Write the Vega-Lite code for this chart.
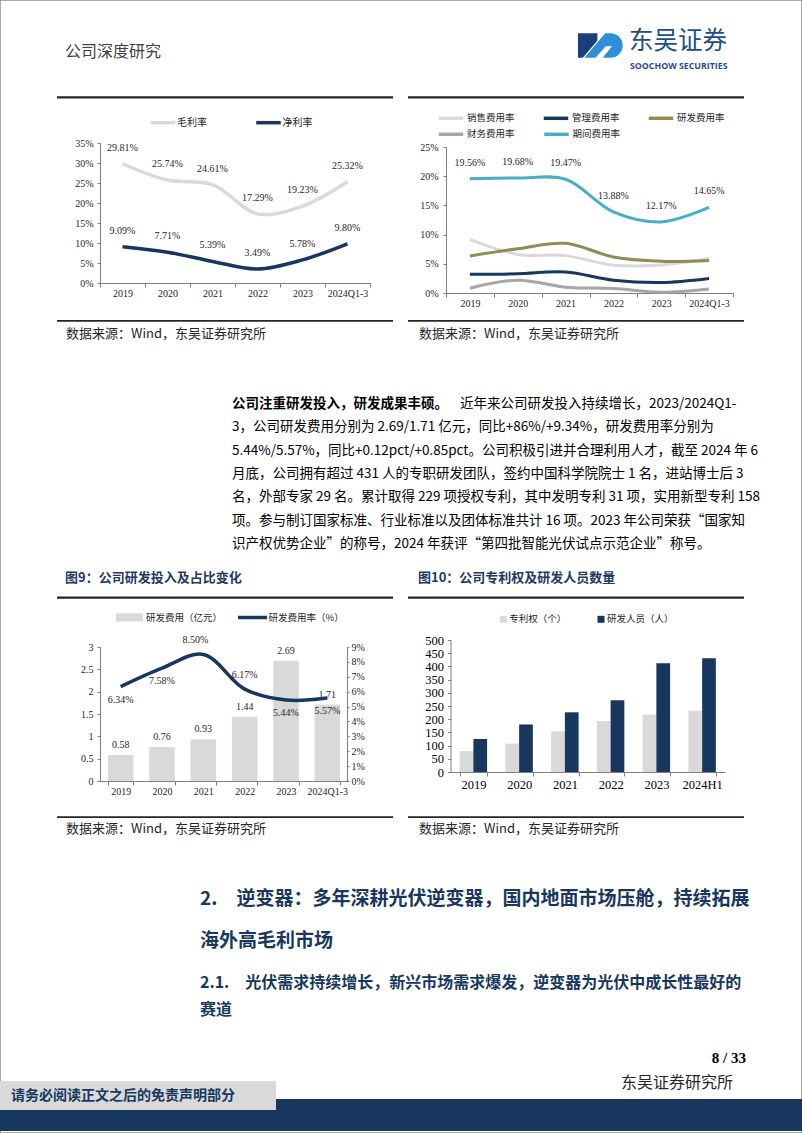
{
  "$schema": "https://vega.github.io/schema/vega-lite/v6.json",
  "width": 802,
  "height": 1133,
  "padding": 0,
  "autosize": {"type": "none"},
  "background": "#ffffff",
  "view": {"stroke": "#8c8c8c", "strokeWidth": 1.5},
  "config": {
    "axis": {"domainColor": "#7f7f7f", "tickColor": "#7f7f7f", "labelColor": "#262626", "labelFont": "Liberation Serif", "labelFontSize": 10, "grid": false},
    "text": {"font": "Noto Sans CJK SC", "baseline": "middle"}
  },
  "resolve": {
    "scale": {"x": "independent", "y": "independent", "color": "independent", "fill": "independent", "stroke": "independent", "shape": "independent", "size": "independent", "strokeWidth": "independent", "opacity": "independent"},
    "axis": {"x": "independent", "y": "independent"}
  },
  "layer": [
    {
      "data": {"values": [{"side": "L", "lv": "a"}, {"side": "R", "lv": "a"}]},
      "mark": {"type": "rect", "color": "#262626"},
      "encoding": {
        "x": {"field": "side", "type": "nominal", "scale": {"type": "band", "range": [57, 744], "paddingInner": 0.0427, "paddingOuter": 0}, "axis": null},
        "y": {"field": "lv", "type": "nominal", "scale": {"type": "band", "range": [96.3, 98.5], "paddingInner": 0, "paddingOuter": 0}, "axis": null}
      }
    },
    {
      "data": {"values": [{"side": "L", "lv": "a"}, {"side": "R", "lv": "a"}]},
      "mark": {"type": "rect", "color": "#262626"},
      "encoding": {
        "x": {"field": "side", "type": "nominal", "scale": {"type": "band", "range": [57, 744], "paddingInner": 0.0427, "paddingOuter": 0}, "axis": null},
        "y": {"field": "lv", "type": "nominal", "scale": {"type": "band", "range": [320, 321.7], "paddingInner": 0, "paddingOuter": 0}, "axis": null}
      }
    },
    {
      "data": {"values": [{"side": "L", "lv": "a"}, {"side": "R", "lv": "a"}]},
      "mark": {"type": "rect", "color": "#262626"},
      "encoding": {
        "x": {"field": "side", "type": "nominal", "scale": {"type": "band", "range": [57, 744], "paddingInner": 0.0427, "paddingOuter": 0}, "axis": null},
        "y": {"field": "lv", "type": "nominal", "scale": {"type": "band", "range": [596.6, 598.8], "paddingInner": 0, "paddingOuter": 0}, "axis": null}
      }
    },
    {
      "data": {"values": [{"side": "L", "lv": "a"}, {"side": "R", "lv": "a"}]},
      "mark": {"type": "rect", "color": "#262626"},
      "encoding": {
        "x": {"field": "side", "type": "nominal", "scale": {"type": "band", "range": [57, 744], "paddingInner": 0.0427, "paddingOuter": 0}, "axis": null},
        "y": {"field": "lv", "type": "nominal", "scale": {"type": "band", "range": [816.2, 817.9], "paddingInner": 0, "paddingOuter": 0}, "axis": null}
      }
    },
    {
      "data": {"values": [{"k": "band"}]},
      "mark": {"type": "rect", "color": "#17375e"},
      "encoding": {
        "x": {"field": "k", "type": "nominal", "scale": {"type": "band", "range": [0, 802], "paddingInner": 0, "paddingOuter": 0}, "axis": null},
        "y": {"field": "k", "type": "nominal", "scale": {"type": "band", "range": [1099, 1131], "paddingInner": 0, "paddingOuter": 0}, "axis": null}
      }
    },
    {
      "data": {"values": [{"k": "box"}]},
      "mark": {"type": "rect", "color": "#d9d9d9"},
      "encoding": {
        "x": {"field": "k", "type": "nominal", "scale": {"type": "band", "range": [0, 276], "paddingInner": 0, "paddingOuter": 0}, "axis": null},
        "y": {"field": "k", "type": "nominal", "scale": {"type": "band", "range": [1081, 1110], "paddingInner": 0, "paddingOuter": 0}, "axis": null}
      }
    },
    {
      "data": {"values": [{"part": "a"}, {"part": "b"}]},
      "mark": {"type": "point", "filled": true, "opacity": 1, "size": 2116, "stroke": "#ffffff", "strokeWidth": 1.2},
      "encoding": {
        "x": {"field": "part", "type": "nominal", "scale": {"type": "point", "range": [600.3, 600.3]}, "axis": null},
        "y": {"field": "part", "type": "nominal", "scale": {"type": "point", "range": [45.5, 45.5]}, "axis": null},
        "shape": {"field": "part", "type": "nominal", "scale": {"domain": ["a", "b"], "range": ["M-1,-0.56H-0.1V0.56H-1Z", "M-0.75,0.56L0.2,-0.56H0.44A0.56,0.56,0,0,1,0.44,0.56H0.05L0.45,0.06L0.25,0.06L-0.2,0.56Z"]}, "legend": null},
        "fill": {"field": "part", "type": "nominal", "scale": {"domain": ["a", "b"], "range": ["#1b3f7a", "#2f8fd6"]}, "legend": null}
      }
    },
    {
      "data": {"values": [{"t": "公司深度研究"}]},
      "mark": {"type": "text", "align": "left", "fontSize": 16, "color": "#404040"},
      "encoding": {
        "text": {"field": "t"},
        "x": {"field": "t", "type": "nominal", "scale": {"type": "point", "range": [65, 65]}, "axis": null},
        "y": {"field": "t", "type": "nominal", "scale": {"type": "point", "range": [52, 52]}, "axis": null}
      }
    },
    {
      "data": {"values": [{"t": "东吴证券"}]},
      "mark": {"type": "text", "align": "left", "fontSize": 24.5, "color": "#1d4e89"},
      "encoding": {
        "text": {"field": "t"},
        "x": {"field": "t", "type": "nominal", "scale": {"type": "point", "range": [629, 629]}, "axis": null},
        "y": {"field": "t", "type": "nominal", "scale": {"type": "point", "range": [42, 42]}, "axis": null}
      }
    },
    {
      "data": {"values": [{"t": "SOOCHOW SECURITIES"}]},
      "mark": {"type": "text", "align": "left", "font": "Open Sans", "fontWeight": "bold", "fontSize": 8.8, "color": "#1d4e89"},
      "encoding": {
        "text": {"field": "t"},
        "x": {"field": "t", "type": "nominal", "scale": {"type": "point", "range": [630, 630]}, "axis": null},
        "y": {"field": "t", "type": "nominal", "scale": {"type": "point", "range": [66, 66]}, "axis": null}
      }
    },
    {
      "data": {"values": [{"side": "L", "t": "数据来源：Wind，东吴证券研究所"}, {"side": "R", "t": "数据来源：Wind，东吴证券研究所"}]},
      "mark": {"type": "text", "align": "left", "fontSize": 13, "color": "#262626"},
      "encoding": {
        "text": {"field": "t"},
        "x": {"field": "side", "type": "nominal", "scale": {"type": "point", "range": [66, 419], "padding": 0}, "axis": null},
        "y": {"field": "t", "type": "nominal", "scale": {"type": "point", "range": [333.5, 333.5]}, "axis": null}
      }
    },
    {
      "data": {"values": [{"t": "公司注重研发投入，研发成果丰硕。"}]},
      "mark": {"type": "text", "align": "left", "fontSize": 13.5, "fontWeight": "bold", "color": "#000000"},
      "encoding": {
        "text": {"field": "t"},
        "x": {"field": "t", "type": "nominal", "scale": {"type": "point", "range": [232, 232]}, "axis": null},
        "y": {"field": "t", "type": "nominal", "scale": {"type": "point", "range": [404, 404]}, "axis": null}
      }
    },
    {
      "data": {"values": [{"t": "近年来公司研发投入持续增长，2023/2024Q1-"}]},
      "mark": {"type": "text", "align": "left", "fontSize": 13.5, "color": "#000000"},
      "encoding": {
        "text": {"field": "t"},
        "x": {"field": "t", "type": "nominal", "scale": {"type": "point", "range": [460, 460]}, "axis": null},
        "y": {"field": "t", "type": "nominal", "scale": {"type": "point", "range": [404, 404]}, "axis": null}
      }
    },
    {
      "data": {"values": [
        {"line": 2, "t": "3，公司研发费用分别为 2.69/1.71 亿元，同比+86%/+9.34%，研发费用率分别为"},
        {"line": 3, "t": "5.44%/5.57%，同比+0.12pct/+0.85pct。公司积极引进并合理利用人才，截至 2024 年 6"},
        {"line": 4, "t": "月底，公司拥有超过 431 人的专职研发团队，签约中国科学院院士 1 名，进站博士后 3"},
        {"line": 5, "t": "名，外部专家 29 名。累计取得 229 项授权专利，其中发明专利 31 项，实用新型专利 158"},
        {"line": 6, "t": "项。参与制订国家标准、行业标准以及团体标准共计 16 项。2023 年公司荣获“国家知"},
        {"line": 7, "t": "识产权优势企业”的称号，2024 年获评“第四批智能光伏试点示范企业”称号。"}
      ]},
      "mark": {"type": "text", "align": "left", "fontSize": 13.5, "color": "#000000"},
      "encoding": {
        "text": {"field": "t"},
        "x": {"field": "t", "type": "nominal", "scale": {"type": "point", "range": [232, 232]}, "axis": null},
        "y": {"field": "line", "type": "ordinal", "scale": {"type": "point", "range": [427.3, 544], "padding": 0}, "axis": null}
      }
    },
    {
      "data": {"values": [{"side": "L", "t": "图9：公司研发投入及占比变化"}, {"side": "R", "t": "图10：公司专利权及研发人员数量"}]},
      "mark": {"type": "text", "align": "left", "fontSize": 13, "fontWeight": "bold", "color": "#1f3864"},
      "encoding": {
        "text": {"field": "t"},
        "x": {"field": "side", "type": "nominal", "scale": {"type": "point", "range": [65, 418], "padding": 0}, "axis": null},
        "y": {"field": "side", "type": "nominal", "scale": {"type": "point", "range": [578, 578]}, "axis": null}
      }
    },
    {
      "data": {"values": [{"side": "L", "t": "数据来源：Wind，东吴证券研究所"}, {"side": "R", "t": "数据来源：Wind，东吴证券研究所"}]},
      "mark": {"type": "text", "align": "left", "fontSize": 13, "color": "#262626"},
      "encoding": {
        "text": {"field": "t"},
        "x": {"field": "side", "type": "nominal", "scale": {"type": "point", "range": [66, 419], "padding": 0}, "axis": null},
        "y": {"field": "t", "type": "nominal", "scale": {"type": "point", "range": [829, 829]}, "axis": null}
      }
    },
    {
      "data": {"values": [
        {"line": 1, "t": "2.　逆变器：多年深耕光伏逆变器，国内地面市场压舱，持续拓展"},
        {"line": 2, "t": "海外高毛利市场"}
      ]},
      "mark": {"type": "text", "align": "left", "fontSize": 19, "fontWeight": "bold", "color": "#17375e"},
      "encoding": {
        "text": {"field": "t"},
        "x": {"field": "t", "type": "nominal", "scale": {"type": "point", "range": [200, 200]}, "axis": null},
        "y": {"field": "line", "type": "ordinal", "scale": {"type": "point", "range": [899, 941], "padding": 0}, "axis": null}
      }
    },
    {
      "data": {"values": [
        {"line": 1, "t": "2.1.　光伏需求持续增长，新兴市场需求爆发，逆变器为光伏中成长性最好的"},
        {"line": 2, "t": "赛道"}
      ]},
      "mark": {"type": "text", "align": "left", "fontSize": 16, "fontWeight": "bold", "color": "#17375e"},
      "encoding": {
        "text": {"field": "t"},
        "x": {"field": "t", "type": "nominal", "scale": {"type": "point", "range": [200, 200]}, "axis": null},
        "y": {"field": "line", "type": "ordinal", "scale": {"type": "point", "range": [983, 1010], "padding": 0}, "axis": null}
      }
    },
    {
      "data": {"values": [{"t": "8 / 33"}]},
      "mark": {"type": "text", "align": "right", "font": "Liberation Serif", "fontWeight": "bold", "fontSize": 15, "color": "#000000"},
      "encoding": {
        "text": {"field": "t"},
        "x": {"field": "t", "type": "nominal", "scale": {"type": "point", "range": [746, 746]}, "axis": null},
        "y": {"field": "t", "type": "nominal", "scale": {"type": "point", "range": [1058, 1058]}, "axis": null}
      }
    },
    {
      "data": {"values": [{"t": "东吴证券研究所"}]},
      "mark": {"type": "text", "align": "left", "fontSize": 16, "color": "#262626"},
      "encoding": {
        "text": {"field": "t"},
        "x": {"field": "t", "type": "nominal", "scale": {"type": "point", "range": [621, 621]}, "axis": null},
        "y": {"field": "t", "type": "nominal", "scale": {"type": "point", "range": [1083, 1083]}, "axis": null}
      }
    },
    {
      "data": {"values": [{"t": "请务必阅读正文之后的免责声明部分"}]},
      "mark": {"type": "text", "align": "left", "fontSize": 14, "fontWeight": "bold", "color": "#17375e"},
      "encoding": {
        "text": {"field": "t"},
        "x": {"field": "t", "type": "nominal", "scale": {"type": "point", "range": [11, 11]}, "axis": null},
        "y": {"field": "t", "type": "nominal", "scale": {"type": "point", "range": [1095.5, 1095.5]}, "axis": null}
      }
    },
    {
      "data": {"values": [{"s": "毛利率"}, {"s": "净利率"}]},
      "encoding": {
        "x": {"field": "s", "type": "nominal", "scale": {"type": "point", "domain": ["毛利率", "净利率"], "range": [163, 268.5], "padding": 0}, "axis": null},
        "y": {"field": "s", "type": "nominal", "scale": {"type": "point", "range": [122.7, 122.7]}, "axis": null}
      },
      "layer": [
        {"mark": {"type": "point", "shape": "stroke", "size": 600, "strokeWidth": 3.5, "filled": false, "opacity": 1},
         "encoding": {"stroke": {"field": "s", "type": "nominal", "scale": {"domain": ["毛利率", "净利率"], "range": ["#d9d9d9", "#17375e"]}, "legend": null}}},
        {"mark": {"type": "text", "align": "left", "dx": 14, "fontSize": 10, "color": "#262626"},
         "encoding": {"text": {"field": "s"}}}
      ]
    },
    {
      "data": {"values": [
        {"year": "2019", "series": "毛利率", "value": 0.2981}, {"year": "2020", "series": "毛利率", "value": 0.2574},
        {"year": "2021", "series": "毛利率", "value": 0.2461}, {"year": "2022", "series": "毛利率", "value": 0.1729},
        {"year": "2023", "series": "毛利率", "value": 0.1923}, {"year": "2024Q1-3", "series": "毛利率", "value": 0.2532},
        {"year": "2019", "series": "净利率", "value": 0.0909}, {"year": "2020", "series": "净利率", "value": 0.0771},
        {"year": "2021", "series": "净利率", "value": 0.0539}, {"year": "2022", "series": "净利率", "value": 0.0349},
        {"year": "2023", "series": "净利率", "value": 0.0578}, {"year": "2024Q1-3", "series": "净利率", "value": 0.0980}
      ]},
      "encoding": {
        "x": {"field": "year", "type": "ordinal", "scale": {"type": "band", "range": [100, 370], "paddingInner": 0, "paddingOuter": 0},
              "axis": {"orient": "bottom", "offset": -850, "title": null, "tickBand": "extent", "labelAngle": 0, "tickSize": 4, "labelPadding": 1}},
        "y": {"field": "value", "type": "quantitative", "scale": {"domain": [0, 0.35], "range": [283, 143], "nice": false},
              "axis": {"orient": "left", "offset": -100, "title": null, "values": [0, 0.05, 0.1, 0.15, 0.2, 0.25, 0.3, 0.35], "format": ".0%", "tickSize": 3, "labelPadding": 4}}
      },
      "layer": [
        {"mark": {"type": "line", "interpolate": "catmull-rom", "strokeWidth": 3.5},
         "encoding": {"stroke": {"field": "series", "type": "nominal", "scale": {"domain": ["毛利率", "净利率"], "range": ["#d9d9d9", "#17375e"]}, "legend": null}}},
        {"mark": {"type": "text", "dy": -16, "font": "Liberation Serif", "fontSize": 10, "color": "#262626", "align": "center"},
         "encoding": {"text": {"field": "value", "type": "quantitative", "format": ".2%"}}}
      ]
    },
    {
      "data": {"values": [{"s": "销售费用率"}, {"s": "管理费用率"}, {"s": "研发费用率"}]},
      "encoding": {
        "x": {"field": "s", "type": "nominal", "scale": {"type": "point", "domain": ["销售费用率", "管理费用率", "研发费用率"], "range": [451, 661], "padding": 0}, "axis": null},
        "y": {"field": "s", "type": "nominal", "scale": {"type": "point", "range": [118.3, 118.3]}, "axis": null}
      },
      "layer": [
        {"mark": {"type": "point", "shape": "stroke", "size": 600, "strokeWidth": 3.5, "filled": false, "opacity": 1},
         "encoding": {"stroke": {"field": "s", "type": "nominal", "scale": {"domain": ["销售费用率", "管理费用率", "研发费用率"], "range": ["#d9d9d9", "#17375e", "#948a54"]}, "legend": null}}},
        {"mark": {"type": "text", "align": "left", "dx": 16, "fontSize": 9.5, "color": "#262626"},
         "encoding": {"text": {"field": "s"}}}
      ]
    },
    {
      "data": {"values": [{"s": "财务费用率"}, {"s": "期间费用率"}]},
      "encoding": {
        "x": {"field": "s", "type": "nominal", "scale": {"type": "point", "domain": ["财务费用率", "期间费用率"], "range": [451, 556.5], "padding": 0}, "axis": null},
        "y": {"field": "s", "type": "nominal", "scale": {"type": "point", "range": [134.3, 134.3]}, "axis": null}
      },
      "layer": [
        {"mark": {"type": "point", "shape": "stroke", "size": 600, "strokeWidth": 3.5, "filled": false, "opacity": 1},
         "encoding": {"stroke": {"field": "s", "type": "nominal", "scale": {"domain": ["财务费用率", "期间费用率"], "range": ["#a6a6a6", "#4bacc6"]}, "legend": null}}},
        {"mark": {"type": "text", "align": "left", "dx": 16, "fontSize": 9.5, "color": "#262626"},
         "encoding": {"text": {"field": "s"}}}
      ]
    },
    {
      "data": {"values": [
        {"year": "2019", "series": "销售费用率", "value": 0.092}, {"year": "2020", "series": "销售费用率", "value": 0.066},
        {"year": "2021", "series": "销售费用率", "value": 0.064}, {"year": "2022", "series": "销售费用率", "value": 0.0475},
        {"year": "2023", "series": "销售费用率", "value": 0.048}, {"year": "2024Q1-3", "series": "销售费用率", "value": 0.059},
        {"year": "2019", "series": "管理费用率", "value": 0.032}, {"year": "2020", "series": "管理费用率", "value": 0.033},
        {"year": "2021", "series": "管理费用率", "value": 0.036}, {"year": "2022", "series": "管理费用率", "value": 0.022},
        {"year": "2023", "series": "管理费用率", "value": 0.018}, {"year": "2024Q1-3", "series": "管理费用率", "value": 0.025},
        {"year": "2019", "series": "研发费用率", "value": 0.0634}, {"year": "2020", "series": "研发费用率", "value": 0.0758},
        {"year": "2021", "series": "研发费用率", "value": 0.085}, {"year": "2022", "series": "研发费用率", "value": 0.0617},
        {"year": "2023", "series": "研发费用率", "value": 0.0544}, {"year": "2024Q1-3", "series": "研发费用率", "value": 0.0557},
        {"year": "2019", "series": "财务费用率", "value": 0.0082}, {"year": "2020", "series": "财务费用率", "value": 0.022},
        {"year": "2021", "series": "财务费用率", "value": 0.010}, {"year": "2022", "series": "财务费用率", "value": 0.0076},
        {"year": "2023", "series": "财务费用率", "value": 0.0013}, {"year": "2024Q1-3", "series": "财务费用率", "value": 0.0068},
        {"year": "2019", "series": "期间费用率", "value": 0.1956}, {"year": "2020", "series": "期间费用率", "value": 0.1968},
        {"year": "2021", "series": "期间费用率", "value": 0.1947}, {"year": "2022", "series": "期间费用率", "value": 0.1388},
        {"year": "2023", "series": "期间费用率", "value": 0.1217}, {"year": "2024Q1-3", "series": "期间费用率", "value": 0.1465}
      ]},
      "encoding": {
        "x": {"field": "year", "type": "ordinal", "scale": {"type": "band", "range": [446, 733], "paddingInner": 0, "paddingOuter": 0},
              "axis": {"orient": "bottom", "offset": -840, "title": null, "tickBand": "extent", "labelAngle": 0, "tickSize": 4, "labelPadding": 1}},
        "y": {"field": "value", "type": "quantitative", "scale": {"domain": [0, 0.25], "range": [293, 147], "nice": false},
              "axis": {"orient": "left", "offset": -446, "title": null, "values": [0, 0.05, 0.1, 0.15, 0.2, 0.25], "format": ".0%", "tickSize": 3, "labelPadding": 5}}
      },
      "layer": [
        {"mark": {"type": "line", "interpolate": "catmull-rom", "strokeWidth": 3},
         "encoding": {"stroke": {"field": "series", "type": "nominal", "scale": {"domain": ["销售费用率", "管理费用率", "研发费用率", "财务费用率", "期间费用率"], "range": ["#d9d9d9", "#17375e", "#948a54", "#a6a6a6", "#4bacc6"]}, "legend": null}}},
        {"transform": [{"filter": {"field": "series", "equal": "期间费用率"}}],
         "mark": {"type": "text", "dy": -16, "font": "Liberation Serif", "fontSize": 10, "color": "#262626", "align": "center"},
         "encoding": {"text": {"field": "value", "type": "quantitative", "format": ".2%"}}}
      ]
    },
    {
      "data": {"values": [{"t": "研发费用（亿元）"}]},
      "encoding": {
        "x": {"field": "t", "type": "nominal", "scale": {"type": "point", "range": [129.5, 129.5]}, "axis": null},
        "y": {"field": "t", "type": "nominal", "scale": {"type": "point", "range": [617.5, 617.5]}, "axis": null}
      },
      "layer": [
        {"mark": {"type": "point", "shape": "M-1,-0.3H1V0.3H-1Z", "size": 729, "filled": true, "opacity": 1, "color": "#d9d9d9"}},
        {"mark": {"type": "text", "align": "left", "dx": 16.5, "fontSize": 9.5, "color": "#262626"},
         "encoding": {"text": {"field": "t"}}}
      ]
    },
    {
      "data": {"values": [{"t": "研发费用率（%）"}]},
      "encoding": {
        "x": {"field": "t", "type": "nominal", "scale": {"type": "point", "range": [252.5, 252.5]}, "axis": null},
        "y": {"field": "t", "type": "nominal", "scale": {"type": "point", "range": [617.5, 617.5]}, "axis": null}
      },
      "layer": [
        {"mark": {"type": "point", "shape": "stroke", "size": 841, "strokeWidth": 3.5, "filled": false, "opacity": 1, "color": "#17375e"}},
        {"mark": {"type": "text", "align": "left", "dx": 16, "fontSize": 9.5, "color": "#262626"},
         "encoding": {"text": {"field": "t"}}}
      ]
    },
    {
      "data": {"values": [
        {"year": "2019", "expense": 0.58, "rate": 0.0634}, {"year": "2020", "expense": 0.76, "rate": 0.0758},
        {"year": "2021", "expense": 0.93, "rate": 0.085}, {"year": "2022", "expense": 1.44, "rate": 0.0617},
        {"year": "2023", "expense": 2.69, "rate": 0.0544}, {"year": "2024Q1-3", "expense": 1.71, "rate": 0.0557}
      ]},
      "encoding": {
        "x": {"field": "year", "type": "ordinal", "scale": {"type": "band", "range": [100, 348], "paddingInner": 0.38, "paddingOuter": 0.19},
              "axis": {"orient": "bottom", "offset": -352, "title": null, "tickBand": "extent", "labelAngle": 0, "tickSize": 4, "labelPadding": 1}}
      },
      "layer": [
        {
          "encoding": {
            "y": {"field": "expense", "type": "quantitative", "scale": {"domain": [0, 3], "range": [781, 647], "nice": false},
                  "axis": {"orient": "left", "offset": -100, "title": null, "values": [0, 0.5, 1, 1.5, 2, 2.5, 3], "format": "~g", "tickSize": 3, "labelPadding": 4}}
          },
          "layer": [
            {"mark": {"type": "bar", "color": "#d9d9d9"}},
            {"mark": {"type": "text", "dy": -10, "font": "Liberation Serif", "fontSize": 10, "color": "#262626", "align": "center"},
             "encoding": {"text": {"field": "expense", "type": "quantitative", "format": ".2f"}}}
          ]
        },
        {
          "encoding": {
            "y": {"field": "rate", "type": "quantitative", "scale": {"domain": [0, 0.09], "range": [781, 647], "nice": false},
                  "axis": {"orient": "right", "offset": -455, "title": null, "values": [0, 0.01, 0.02, 0.03, 0.04, 0.05, 0.06, 0.07, 0.08, 0.09], "format": ".0%", "tickSize": 2, "labelPadding": 2}}
          },
          "layer": [
            {"mark": {"type": "line", "interpolate": "catmull-rom", "strokeWidth": 3.5, "color": "#17375e"}},
            {"transform": [{"filter": {"field": "year", "oneOf": ["2019", "2020", "2023", "2024Q1-3"]}}],
             "mark": {"type": "text", "dy": 13, "font": "Liberation Serif", "fontSize": 10, "color": "#262626", "align": "center"},
             "encoding": {"text": {"field": "rate", "type": "quantitative", "format": ".2%"}}},
            {"transform": [{"filter": {"field": "year", "equal": "2021"}}],
             "mark": {"type": "text", "dy": -14, "dx": -8, "font": "Liberation Serif", "fontSize": 10, "color": "#262626", "align": "center"},
             "encoding": {"text": {"field": "rate", "type": "quantitative", "format": ".2%"}}},
            {"transform": [{"filter": {"field": "year", "equal": "2022"}}],
             "mark": {"type": "text", "dy": -14, "font": "Liberation Serif", "fontSize": 10, "color": "#262626", "align": "center"},
             "encoding": {"text": {"field": "rate", "type": "quantitative", "format": ".2%"}}}
          ]
        }
      ],
      "resolve": {"scale": {"y": "independent"}, "axis": {"y": "independent"}}
    },
    {
      "data": {"values": [{"s": "专利权（个）"}, {"s": "研发人员（人）"}]},
      "encoding": {
        "x": {"field": "s", "type": "nominal", "scale": {"type": "point", "domain": ["专利权（个）", "研发人员（人）"], "range": [503.3, 601], "padding": 0}, "axis": null},
        "y": {"field": "s", "type": "nominal", "scale": {"type": "point", "range": [619.3, 619.3]}, "axis": null}
      },
      "layer": [
        {"mark": {"type": "point", "shape": "square", "size": 49, "filled": true, "opacity": 1},
         "encoding": {"fill": {"field": "s", "type": "nominal", "scale": {"domain": ["专利权（个）", "研发人员（人）"], "range": ["#d9d9d9", "#17375e"]}, "legend": null}}},
        {"mark": {"type": "text", "align": "left", "dx": 6, "fontSize": 9.5, "color": "#262626"},
         "encoding": {"text": {"field": "s"}}}
      ]
    },
    {
      "data": {"values": [
        {"year": "2019", "series": "专利权（个）", "count": 79}, {"year": "2020", "series": "专利权（个）", "count": 108},
        {"year": "2021", "series": "专利权（个）", "count": 154}, {"year": "2022", "series": "专利权（个）", "count": 193},
        {"year": "2023", "series": "专利权（个）", "count": 218}, {"year": "2024H1", "series": "专利权（个）", "count": 232},
        {"year": "2019", "series": "研发人员（人）", "count": 125}, {"year": "2020", "series": "研发人员（人）", "count": 180},
        {"year": "2021", "series": "研发人员（人）", "count": 226}, {"year": "2022", "series": "研发人员（人）", "count": 272},
        {"year": "2023", "series": "研发人员（人）", "count": 412}, {"year": "2024H1", "series": "研发人员（人）", "count": 431}
      ]},
      "mark": {"type": "bar"},
      "encoding": {
        "x": {"field": "year", "type": "ordinal", "scale": {"type": "band", "range": [450.5, 725], "paddingInner": 0.4, "paddingOuter": 0.2},
              "axis": {"orient": "bottom", "offset": -361, "title": null, "tickBand": "extent", "labelAngle": 0, "tickSize": 4, "labelPadding": 2, "labelFontSize": 12.5, "labelColor": "#000000"}},
        "xOffset": {"field": "series", "type": "nominal", "scale": {"domain": ["专利权（个）", "研发人员（人）"], "paddingInner": 0, "paddingOuter": 0}},
        "y": {"field": "count", "type": "quantitative", "scale": {"domain": [0, 500], "range": [772, 640], "nice": false},
              "axis": {"orient": "left", "offset": -450.5, "title": null, "values": [0, 50, 100, 150, 200, 250, 300, 350, 400, 450, 500], "tickSize": 3, "labelPadding": 4, "labelFontSize": 12.5, "labelColor": "#000000"}},
        "fill": {"field": "series", "type": "nominal", "scale": {"domain": ["专利权（个）", "研发人员（人）"], "range": ["#d9d9d9", "#17375e"]}, "legend": null}
      }
    }
  ]
}
